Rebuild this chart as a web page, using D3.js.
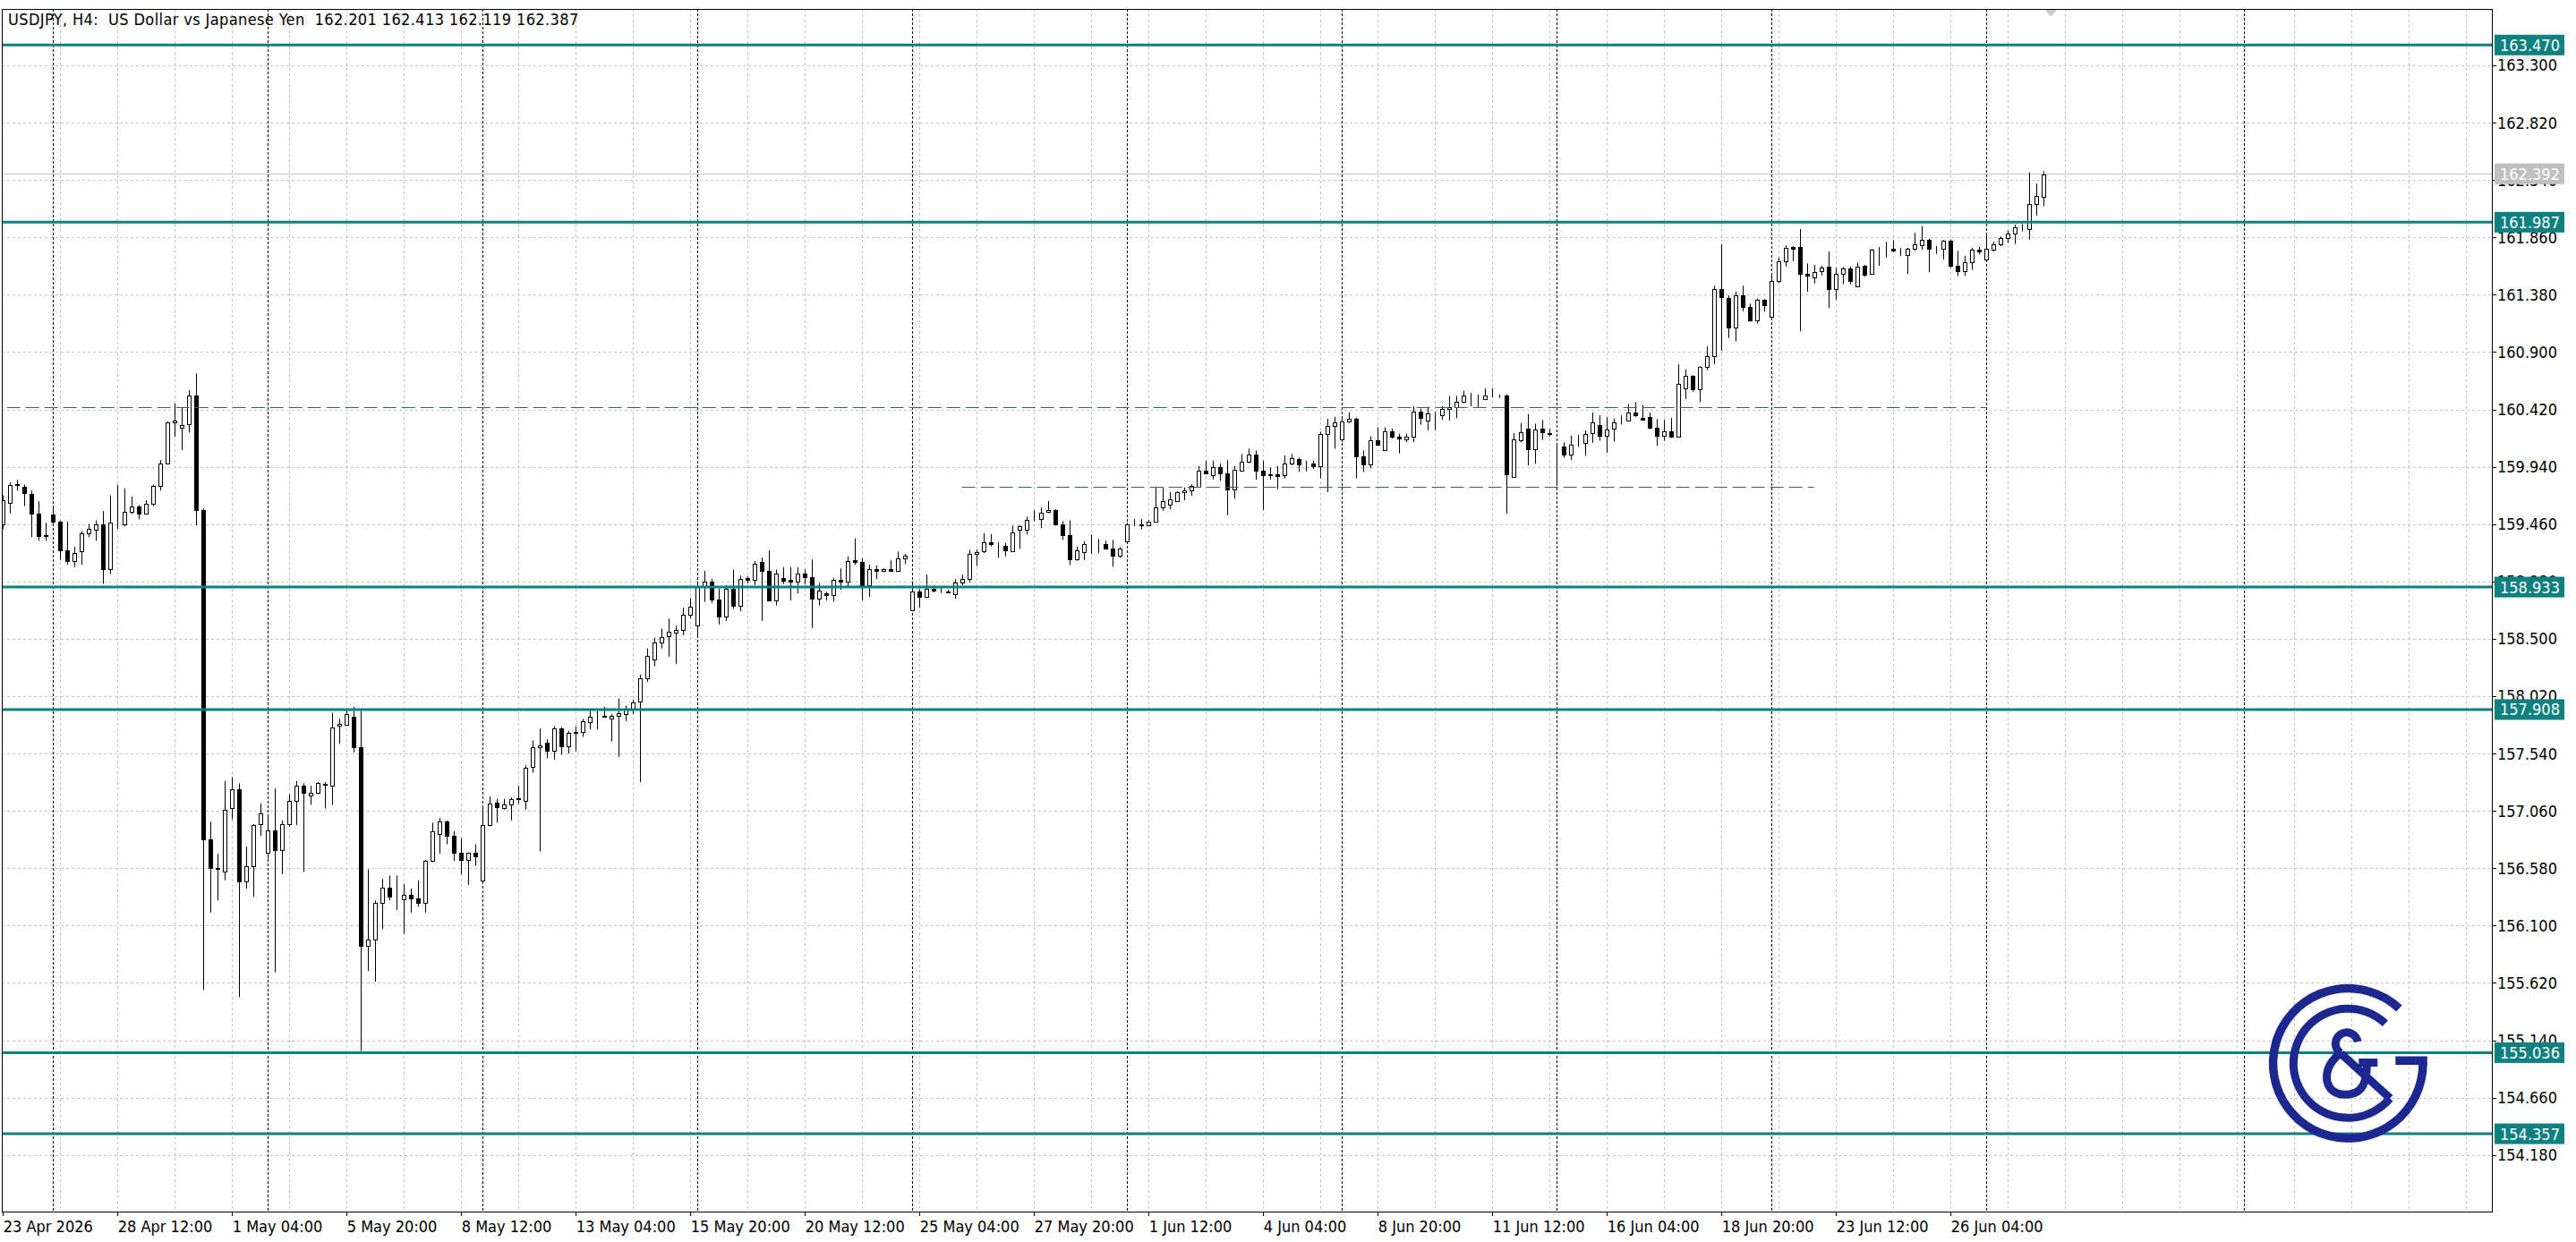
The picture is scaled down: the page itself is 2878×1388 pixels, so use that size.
<!DOCTYPE html>
<html><head><meta charset="utf-8">
<script src="https://cdn.jsdelivr.net/npm/d3@7"></script>
<style>
html,body{margin:0;padding:0;background:#fff;}
svg{display:block;}
text{font-family:"DejaVu Sans Condensed","DejaVu Sans",sans-serif;font-stretch:condensed;}
</style></head><body>
<svg id="chart" width="2878" height="1388"></svg>
<script>
const title = "USDJPY, H4:  US Dollar vs Japanese Yen  162.201 162.413 162.119 162.387";

const opens = [159.46,159.64,159.79,159.77,159.71,159.545,159.36,159.54,159.48,159.24,
159.15,159.23,159.38,159.41,159.46,159.08,159.47,159.46,159.56,159.61,
159.545,159.63,159.78,159.97,160.31,160.27,160.30,160.54,159.58,156.82,
156.58,156.55,157.08,157.24,156.47,156.60,156.95,156.71,156.90,156.73,
156.95,157.14,157.27,157.19,157.21,157.28,157.27,157.77,157.78,157.85,
157.59,155.93,155.98,156.29,156.42,156.33,156.32,156.36,156.33,156.29,
156.64,156.87,156.97,156.85,156.71,156.65,156.71,156.48,156.94,157.13,
157.08,157.11,157.16,157.14,157.43,157.59,157.63,157.56,157.75,157.60,
157.71,157.72,157.80,157.855,157.855,157.83,157.858,157.87,157.91,157.975,
158.17,158.33,158.47,158.52,158.555,158.572,158.70,158.61,158.93,158.98,
158.826,158.684,158.92,158.78,159.01,158.99,159.14,159.065,158.82,159.01,
158.995,158.975,159.045,159.015,158.833,158.878,158.863,158.99,158.975,159.162,
159.14,158.945,159.082,159.065,159.082,159.07,159.17,158.74,158.895,158.85,
158.92,158.905,158.898,158.873,158.968,158.998,159.21,159.235,159.305,159.28,
159.277,159.235,159.415,159.41,159.497,159.502,159.56,159.577,159.46,159.367,
159.168,159.227,159.297,159.297,159.292,159.255,159.198,159.315,159.455,159.455,
159.447,159.482,159.597,159.622,159.654,159.727,159.742,159.772,159.904,159.872,
159.934,159.884,159.747,159.909,159.984,160.041,159.904,159.879,159.877,159.867,
159.966,160.004,159.964,159.964,159.941,160.214,160.278,160.166,160.321,160.341,
160.026,159.959,160.159,160.076,160.234,160.191,160.171,160.191,160.401,160.326,
160.383,160.371,160.426,160.441,160.483,160.521,160.513,160.503,160.536,160.533,
160.533,159.854,160.164,160.257,160.09,160.257,160.224,160.105,160.107,160.045,
160.14,160.14,160.219,160.289,160.199,160.257,160.324,160.324,160.394,160.349,
160.357,160.264,160.202,160.239,160.194,160.598,160.698,160.589,160.774,160.869,
161.425,161.35,161.106,161.373,161.28,161.163,161.335,161.193,161.493,161.662,
161.777,161.777,161.555,161.523,161.575,161.612,161.43,161.555,161.597,161.448,
161.622,161.555,161.755,161.755,161.762,161.718,161.713,161.762,161.792,161.837,
161.772,161.762,161.83,161.622,161.58,161.655,161.755,161.672,161.755,161.805,
161.855,161.892,161.937,161.93,162.137,162.201];

const highs = [159.70,159.81,159.83,159.79,159.74,159.65,159.47,159.60,159.49,159.48,
159.27,159.40,159.46,159.49,159.57,159.70,159.79,159.76,159.69,159.62,
159.66,159.79,159.995,160.32,160.47,160.44,160.58,160.72,159.59,156.97,
156.70,157.31,157.34,157.29,156.76,156.95,157.12,157.02,157.25,156.98,
157.20,157.31,157.29,157.27,157.30,157.30,157.88,157.83,157.91,157.93,
157.90,156.57,156.31,156.49,156.52,156.52,156.45,156.41,156.48,156.65,
156.96,157.00,156.98,156.89,156.83,156.71,156.78,157.09,157.18,157.16,
157.16,157.17,157.27,157.44,157.65,157.75,157.66,157.77,157.76,157.73,
157.77,157.83,157.90,157.90,157.93,157.87,158.00,157.94,157.99,158.20,
158.42,158.51,158.585,158.67,158.61,158.76,158.84,158.98,159.07,159.00,
158.92,158.95,159.08,159.03,159.025,159.15,159.18,159.24,159.08,159.10,
159.10,159.10,159.08,159.165,158.965,158.895,159.01,159.09,159.19,159.34,
159.17,159.12,159.115,159.09,159.157,159.23,159.21,158.98,158.915,159.037,
158.945,158.933,158.91,158.998,159.036,159.243,159.247,159.385,159.377,159.31,
159.302,159.447,159.452,159.522,159.577,159.597,159.652,159.584,159.485,159.492,
159.272,159.318,159.372,159.335,159.322,159.327,159.267,159.472,159.502,159.502,
159.492,159.767,159.767,159.727,159.734,159.767,159.792,159.947,159.991,159.991,
159.966,159.996,159.947,160.046,160.091,160.076,159.991,159.934,159.947,160.034,
160.046,160.016,159.991,159.991,160.234,160.341,160.358,160.358,160.396,160.351,
160.076,160.196,160.271,160.271,160.258,160.216,160.216,160.446,160.426,160.441,
160.401,160.446,160.533,160.533,160.576,160.558,160.546,160.596,160.596,160.546,
160.546,160.221,160.307,160.382,160.30,160.332,160.257,160.132,160.145,160.20,
160.207,160.244,160.394,160.369,160.357,160.344,160.369,160.464,160.482,160.457,
160.394,160.339,160.332,160.349,160.798,160.756,160.706,160.781,160.948,161.455,
161.805,161.373,161.405,161.455,161.305,161.348,161.343,161.563,161.692,161.792,
161.787,161.93,161.642,161.63,161.622,161.742,161.605,161.612,161.617,161.647,
161.63,161.762,161.78,161.822,161.837,161.772,161.772,161.897,161.955,161.847,
161.787,161.837,161.842,161.747,161.705,161.772,161.78,161.88,161.822,161.867,
161.917,161.967,161.972,162.404,162.311,162.413];

const lows = [159.42,159.55,159.74,159.61,159.35,159.32,159.32,159.46,159.16,159.12,
159.10,159.12,159.35,159.32,158.96,159.04,159.42,159.44,159.545,159.50,
159.54,159.61,159.74,159.96,160.19,160.08,160.225,159.45,155.56,156.21,
156.31,156.48,156.99,155.50,156.41,156.34,156.85,156.66,155.71,156.53,
156.93,156.94,156.55,157.11,157.20,157.08,157.11,157.62,157.77,157.55,
155.05,155.72,155.63,156.07,156.31,156.23,156.03,156.21,156.26,156.21,
156.63,156.70,156.78,156.64,156.53,156.44,156.60,156.48,156.93,156.96,
157.07,156.98,157.12,157.07,157.38,156.72,157.50,157.49,157.53,157.54,
157.56,157.68,157.74,157.74,157.84,157.64,157.51,157.81,157.87,157.30,
158.14,158.27,158.42,158.35,158.29,158.53,158.67,158.53,158.81,158.80,
158.62,158.65,158.75,158.73,158.965,158.95,158.65,158.816,158.78,158.958,
158.82,158.88,158.958,158.59,158.78,158.82,158.81,158.91,158.94,159.12,
158.82,158.85,159.00,159.058,159.065,159.058,159.125,158.73,158.76,158.846,
158.89,158.883,158.88,158.836,158.948,158.973,159.11,159.217,159.273,159.178,
159.19,159.228,159.253,159.372,159.485,159.427,159.552,159.447,159.327,159.118,
159.153,159.16,159.21,159.217,159.247,159.103,159.178,159.297,159.442,159.417,
159.442,159.472,159.572,159.584,159.647,159.659,159.697,159.767,159.877,159.834,
159.822,159.535,159.672,159.897,159.971,159.834,159.577,159.834,159.752,159.842,
159.952,159.897,159.902,159.922,159.842,159.727,160.091,160.146,160.308,159.842,
159.897,159.927,160.116,160.071,160.176,160.051,160.146,160.146,160.291,160.246,
160.246,160.333,160.326,160.346,160.471,160.446,160.433,160.496,160.521,160.516,
159.547,159.852,160.145,159.95,159.965,160.165,160.195,159.78,160.015,159.995,
160.107,160.032,160.14,160.157,160.057,160.15,160.294,160.319,160.357,160.332,
160.257,160.115,160.157,160.182,160.19,160.507,160.569,160.482,160.749,160.798,
160.913,161.018,160.988,161.243,161.155,161.138,161.238,161.188,161.48,161.617,
161.662,161.073,161.405,161.473,161.543,161.268,161.338,161.468,161.468,161.443,
161.53,161.547,161.622,161.692,161.737,161.705,161.555,161.747,161.755,161.568,
161.722,161.673,161.605,161.537,161.537,161.588,161.717,161.668,161.742,161.787,
161.812,161.805,161.912,161.842,162.042,162.119];

const closes = [159.66,159.79,159.795,159.72,159.545,159.36,159.37,159.48,159.24,159.15,
159.22,159.38,159.42,159.46,159.08,159.47,159.475,159.56,159.61,159.545,
159.63,159.78,159.97,160.31,160.33,160.29,160.54,159.58,156.82,156.58,
156.575,157.07,157.24,156.47,156.60,156.94,157.04,156.90,156.73,156.95,
157.14,157.27,157.21,157.21,157.29,157.285,157.76,157.79,157.87,157.59,
155.93,155.98,156.29,156.42,156.34,156.325,156.36,156.33,156.29,156.64,
156.89,156.97,156.85,156.71,156.65,156.71,156.68,156.94,157.12,157.09,
157.11,157.16,157.165,157.42,157.59,157.61,157.56,157.75,157.60,157.71,
157.72,157.81,157.85,157.855,157.85,157.855,157.875,157.913,157.97,158.17,
158.36,158.47,158.515,158.56,158.572,158.70,158.766,158.933,158.98,158.826,
158.684,158.92,158.78,159.00,158.99,159.13,159.065,158.82,159.045,158.987,
158.975,159.045,159.015,158.833,158.903,158.863,158.99,158.975,159.15,159.14,
158.945,159.082,159.065,159.082,159.07,159.17,159.195,158.895,158.85,158.915,
158.905,158.903,158.885,158.968,158.998,159.21,159.223,159.305,159.29,159.277,
159.24,159.39,159.44,159.497,159.499,159.552,159.577,159.455,159.367,159.168,
159.24,159.29,159.299,159.299,159.255,159.198,159.252,159.455,159.457,159.45,
159.482,159.597,159.652,159.667,159.727,159.742,159.777,159.904,159.884,159.934,
159.884,159.747,159.916,159.984,160.041,159.904,159.867,159.867,159.859,159.966,
160.009,159.959,159.966,159.941,160.214,160.278,160.313,160.321,160.341,160.026,
159.959,160.159,160.126,160.234,160.191,160.176,160.191,160.401,160.346,160.383,
160.385,160.426,160.441,160.483,160.538,160.523,160.515,160.533,160.538,160.535,
159.879,160.166,160.227,160.09,160.249,160.227,160.214,160.10,160.045,160.127,
160.142,160.214,160.314,160.199,160.249,160.314,160.326,160.394,160.369,160.337,
160.264,160.199,160.239,160.194,160.631,160.698,160.589,160.774,160.869,161.425,
161.363,161.106,161.373,161.28,161.163,161.338,161.293,161.493,161.662,161.772,
161.767,161.555,161.543,161.573,161.605,161.43,161.555,161.597,161.498,161.617,
161.547,161.755,161.757,161.757,161.747,161.716,161.762,161.80,161.837,161.767,
161.774,161.83,161.622,161.58,161.655,161.755,161.742,161.762,161.805,161.855,
161.892,161.942,161.939,162.137,162.204,162.387];

// time axis: bar index of each label and the label text
const timeTickIndex = [0,16,32,48,64,80,96,112,128,144,160,176,192,208,224,240,256,272];
const timeTickLabels = ["23 Apr 2026","28 Apr 12:00","1 May 04:00","5 May 20:00","8 May 12:00",
"13 May 04:00","15 May 20:00","20 May 12:00","25 May 04:00","27 May 20:00","1 Jun 12:00",
"4 Jun 04:00","8 Jun 20:00","11 Jun 12:00","16 Jun 04:00","18 Jun 20:00","23 Jun 12:00","26 Jun 04:00"];
// weekly period separators (bar index)
const separatorIndex = [7,37,67,97,127,157,187,217,247,277,313];

// price axis ticks
const priceTicks = [163.300,162.820,162.340,161.860,161.380,160.900,160.420,159.940,159.460,158.980,
158.500,158.020,157.540,157.060,156.580,156.100,155.620,155.140,154.660,154.180];

// horizontal level lines
const levelPrices = [163.470,161.987,158.933,157.908,155.036,154.357];
const bidPrice = 162.392;
// dashed trend levels: price, from bar, to bar
const dashedPrices = [160.437,159.770];
const dashedFrom = [-2,134];
const dashedTo = [277,253];

const W = 2878, H = 1388;
const plot = {left:2, top:10, right:2784, bottom:1354};
const TEAL = "#0e8080";
const FONT = 18;

const svg = d3.select("#chart");
svg.append("rect").attr("width",W).attr("height",H).attr("fill","#fff");

const x = d3.scaleLinear().domain([0,285]).range([2.7,2282.7]);
const y = d3.scaleLinear().domain([154.18,163.30]).range([1290.7,73]);

const defs = svg.append("defs");
defs.append("clipPath").attr("id","plotclip").append("rect")
  .attr("x",plot.left+1).attr("y",plot.top+1)
  .attr("width",plot.right-plot.left-1).attr("height",plot.bottom-plot.top-1);

const g = svg.append("g").attr("clip-path","url(#plotclip)");

// horizontal grid
g.selectAll("line.hg").data(priceTicks).join("line")
  .attr("x1",plot.left).attr("x2",plot.right)
  .attr("y1",d=>Math.round(y(d))+0.5).attr("y2",d=>Math.round(y(d))+0.5)
  .attr("stroke","#c4c4c4").attr("stroke-width",1).attr("stroke-dasharray","3,3");

// vertical grid every 8 bars
const vgrid = [];
for (let k=8; x(k) < plot.right; k+=8) vgrid.push(k);
g.selectAll("line.vg").data(vgrid).join("line")
  .attr("x1",d=>Math.round(x(d))+0.5).attr("x2",d=>Math.round(x(d))+0.5)
  .attr("y1",plot.top).attr("y2",plot.bottom)
  .attr("stroke","#c4c4c4").attr("stroke-width",1).attr("stroke-dasharray","3,3");

// period separators
g.selectAll("line.sep").data(separatorIndex).join("line")
  .attr("x1",d=>Math.round(x(d))+0.5).attr("x2",d=>Math.round(x(d))+0.5)
  .attr("y1",plot.top).attr("y2",plot.bottom)
  .attr("stroke","#000").attr("stroke-width",1).attr("stroke-dasharray","3,2");

// bid line
g.append("line").attr("x1",plot.left).attr("x2",plot.right)
  .attr("y1",Math.round(y(bidPrice))+0.5).attr("y2",Math.round(y(bidPrice))+0.5)
  .attr("stroke","#c0c0c0").attr("stroke-width",1);

// candles
const bars = d3.range(opens.length).map(i=>({i,o:opens[i],h:highs[i],l:lows[i],c:closes[i]}));
const cg = g.append("g");
cg.selectAll("line.wick").data(bars).join("line")
  .attr("x1",d=>Math.round(x(d.i))+0.5).attr("x2",d=>Math.round(x(d.i))+0.5)
  .attr("y1",d=>y(d.h)).attr("y2",d=>y(d.l))
  .attr("stroke","#000").attr("stroke-width",1);
cg.selectAll("rect.body").data(bars).join("rect")
  .attr("x",d=>Math.round(x(d.i))-2+0.5)
  .attr("width",4)
  .attr("y",d=>Math.round(y(Math.max(d.o,d.c)))+0.5)
  .attr("height",d=>Math.max(0,Math.round(y(Math.min(d.o,d.c)))-Math.round(y(Math.max(d.o,d.c)))))
  .attr("fill",d=>d.c>=d.o?"#fff":"#000")
  .attr("stroke","#000").attr("stroke-width",1);

// dashed levels
g.selectAll("line.dash").data(dashedPrices).join("line")
  .attr("x1",(d,k)=>x(dashedFrom[k])).attr("x2",(d,k)=>x(dashedTo[k]))
  .attr("y1",d=>Math.round(y(d))+0.5).attr("y2",d=>Math.round(y(d))+0.5)
  .attr("stroke","#2f6f2f").attr("stroke-width",1).attr("stroke-dasharray","15,6");

// teal level lines
g.selectAll("line.lvl").data(levelPrices).join("line")
  .attr("x1",plot.left).attr("x2",plot.right)
  .attr("y1",d=>y(d)).attr("y2",d=>y(d))
  .attr("stroke",TEAL).attr("stroke-width",3);

// shift marker
svg.append("path")
  .attr("d",`M${x(285)+0.5},${plot.top} l8,8 l8,-8 z`)
  .attr("fill","#c8c8c8");

// frame
svg.append("rect").attr("x",plot.left+0.5).attr("y",plot.top+0.5)
  .attr("width",plot.right-plot.left).attr("height",plot.bottom-plot.top)
  .attr("fill","none").attr("stroke","#000").attr("stroke-width",1);

// price axis labels
const ax = svg.append("g");
ax.selectAll("line.pt").data(priceTicks).join("line")
  .attr("x1",plot.right).attr("x2",plot.right+5)
  .attr("y1",d=>Math.round(y(d))+0.5).attr("y2",d=>Math.round(y(d))+0.5)
  .attr("stroke","#000");
ax.selectAll("text.pt").data(priceTicks).join("text")
  .attr("x",plot.right+6).attr("y",d=>y(d)).attr("dy","0.36em")
  .attr("font-size",FONT).attr("fill","#000")
  .text(d=>d3.format(".3f")(d));

// time axis
ax.selectAll("line.tt").data(timeTickIndex).join("line")
  .attr("x1",d=>Math.round(x(d))+0.5).attr("x2",d=>Math.round(x(d))+0.5)
  .attr("y1",plot.bottom).attr("y2",plot.bottom+5)
  .attr("stroke","#000");
ax.selectAll("text.tt").data(timeTickIndex).join("text")
  .attr("x",d=>Math.max(plot.left+1, x(d)+1)).attr("y",1371).attr("dy","0.36em")
  .attr("font-size",FONT).attr("fill","#000")
  .text((d,k)=>timeTickLabels[k]);

// level boxes
const boxes = levelPrices.map(v=>({v,fill:TEAL})).concat([{v:bidPrice,fill:"#c0c0c0"}]);
const bx = ax.selectAll("g.box").data(boxes).join("g");
bx.append("rect").attr("x",plot.right+3).attr("width",78)
  .attr("y",d=>y(d.v)-11.5).attr("height",23).attr("fill",d=>d.fill);
bx.append("text").attr("x",plot.right+9).attr("y",d=>y(d.v)).attr("dy","0.36em")
  .attr("font-size",FONT).attr("fill","#fff").text(d=>d3.format(".3f")(d.v));

// title
svg.append("text").attr("x",9).attr("y",22).attr("dy","0.36em")
  .attr("font-size",FONT).attr("fill","#000").attr("xml:space","preserve")
  .attr("letter-spacing","0.38")
  .style("white-space","pre").text(title);

// logo
const LOGO = "#1c2790";
const lg = svg.append("g").attr("transform","translate(2623.3,1188.3)");
const deg = Math.PI/180;
lg.append("path").attr("d", d3.arc().innerRadius(79).outerRadius(88.5).startAngle(90*deg).endAngle(403*deg)())
  .attr("fill",LOGO);
lg.append("rect").attr("x",53).attr("y",-7.8).attr("width",35.5).attr("height",9.6).attr("fill",LOGO);
lg.append("path").attr("d", d3.arc().innerRadius(56.5).outerRadius(65.5).startAngle(130*deg).endAngle(403*deg)())
  .attr("fill",LOGO);
// ampersand
lg.append("path").attr("d", d3.arc().innerRadius(8).outerRadius(17).startAngle(212*deg).endAngle(440*deg)())
  .attr("transform","translate(-1.5,-22)").attr("fill",LOGO);
lg.append("path").attr("d","M-8,-11 L47,39").attr("stroke",LOGO).attr("stroke-width",9).attr("fill","none");
lg.append("path").attr("d","M-7,-12 C-30,2 -30,35 -3,35 C17,35 21,20 21,2")
  .attr("stroke",LOGO).attr("stroke-width",9).attr("fill","none");
lg.append("path").attr("d","M12,-0.8 L33,-0.8").attr("stroke",LOGO).attr("stroke-width",9).attr("fill","none");
</script>
</body></html>
